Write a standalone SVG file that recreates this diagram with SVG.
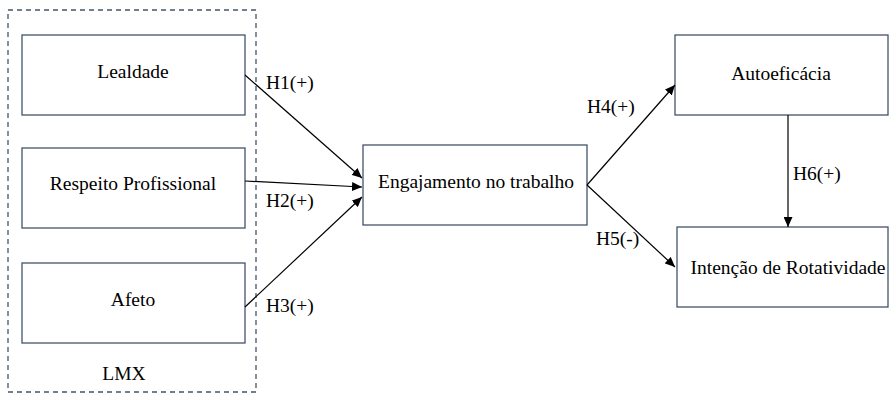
<svg xmlns="http://www.w3.org/2000/svg" width="895" height="394" viewBox="0 0 895 394">
<style>
.box{fill:#fff;stroke:#44546a;stroke-width:1.3}
.t{font-family:'Liberation Serif','Times New Roman','DejaVu Serif',serif;font-size:19.5px;fill:#000}
.c{stroke:#000;stroke-width:1.2;fill:none;marker-end:url(#ah)}
</style>
<defs>
<marker id="ah" viewBox="0 0 10 10" refX="10" refY="5" markerWidth="10" markerHeight="9" markerUnits="userSpaceOnUse" orient="auto" preserveAspectRatio="none">
<path d="M0,0 L10,5 L0,10 z" fill="#000"/>
</marker>
</defs>
<rect width="895" height="394" fill="#fff"/>
<g id="lmx">
<rect x="8" y="10" width="248" height="382" fill="none" stroke="#44546a" stroke-width="1.3" stroke-dasharray="5,4"/>
<text class="t" x="124" y="380" text-anchor="middle" font-family="Liberation Serif, serif">LMX</text>
</g>
<g id="lealdade"><rect class="box" x="22" y="35" width="223" height="80"/><text class="t" x="133" y="78" text-anchor="middle">Lealdade</text></g>
<g id="respeito"><rect class="box" x="22" y="148" width="223" height="80"/><text class="t" x="133" y="190" text-anchor="middle">Respeito Profissional</text></g>
<g id="afeto"><rect class="box" x="22" y="263" width="223" height="80"/><text class="t" x="133" y="306" text-anchor="middle">Afeto</text></g>
<g id="engajamento"><rect class="box" x="363" y="145" width="224" height="80"/><text class="t" x="476" y="188" text-anchor="middle">Engajamento no trabalho</text></g>
<g id="autoeficacia"><rect class="box" x="675" y="35" width="213" height="80"/><text class="t" x="781" y="80" text-anchor="middle">Autoeficácia</text></g>
<g id="intencao"><rect class="box" x="677" y="227" width="211" height="80"/><text class="t" x="788" y="274" text-anchor="middle">Intenção de Rotatividade</text></g>
<g id="connectors">
<line class="c" x1="245" y1="75" x2="362" y2="178"/>
<line class="c" x1="245" y1="181" x2="362" y2="187"/>
<line class="c" x1="245" y1="307" x2="362" y2="197"/>
<line class="c" x1="587" y1="185" x2="675" y2="85"/>
<line class="c" x1="587" y1="185" x2="675" y2="267"/>
<line class="c" x1="788" y1="115" x2="788" y2="227"/>
<text class="t" x="266" y="89">H1(+)</text>
<text class="t" x="266" y="207">H2(+)</text>
<text class="t" x="266" y="312">H3(+)</text>
<text class="t" x="587" y="113">H4(+)</text>
<text class="t" x="596" y="245">H5(-)</text>
<text class="t" x="793" y="180">H6(+)</text>
</g>
</svg>
